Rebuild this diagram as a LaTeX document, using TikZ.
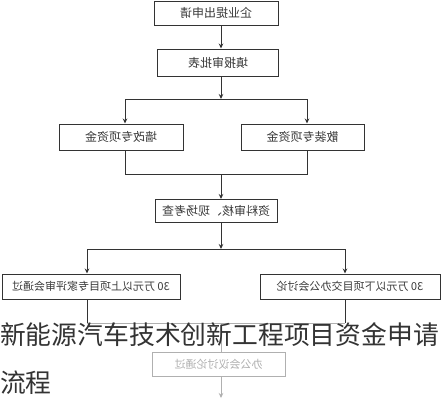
\documentclass[tikz,border=0pt]{standalone}
\usepackage{fontspec}
\usepackage{graphicx}
\newfontfamily\cjk{Noto Sans CJK SC}
\usetikzlibrary{arrows.meta}
\definecolor{lineC}{HTML}{333333}
\definecolor{txtC}{HTML}{3A3A3A}
\definecolor{fadeC}{HTML}{B0B0B0}
\definecolor{titleC}{HTML}{333333}
\begin{document}
\begin{tikzpicture}[x=1pt,y=-1pt,
  flowbox/.style={draw=lineC,line width=1pt,inner sep=0pt,font=\cjk\fontsize{12}{14}\selectfont,text=txtC},
  widebox/.style={flowbox,font=\cjk\fontsize{11}{13}\selectfont},
  fadebox/.style={draw=fadeC,line width=0.9pt,inner sep=0pt,font=\cjk\fontsize{11}{13}\selectfont,text=fadeC},
  arr/.style={draw=lineC,line width=0.9pt,-{Stealth[length=5pt,width=4.5pt]}},
  ln/.style={draw=lineC,line width=0.9pt},
  fadearr/.style={draw=fadeC,line width=0.9pt,-{Stealth[length=5pt,width=4.5pt]}},
  fadeln/.style={draw=fadeC,line width=0.9pt},
  titletxt/.style={font=\cjk\fontsize{25.8}{30}\selectfont,text=titleC,inner sep=0pt}]
\fill[white] (0,0) rectangle (441,400);
\useasboundingbox (0,0) rectangle (441,400);
% column coordinates
\coordinate (cM) at (221,0);
\coordinate (cL1) at (125,0);
\coordinate (cR1) at (307,0);
\coordinate (cL2) at (87,0);
\coordinate (cR2) at (345,0);
% boxes
\node[flowbox,minimum width=124pt,minimum height=24pt] (b1) at (216,13) {\reflectbox{企业提出申请}};
\node[flowbox,minimum width=121pt,minimum height=27pt] (b2) at (218,62.5) {\reflectbox{填报审批表}};
\node[flowbox,minimum width=124pt,minimum height=26pt] (b3l) at (121,137) {\reflectbox{墙改专项资金}};
\node[flowbox,minimum width=123pt,minimum height=26pt] (b3r) at (302.5,137) {\reflectbox{散装专项资金}};
\node[flowbox,minimum width=122pt,minimum height=23pt] (b4) at (216,211) {\reflectbox{资料审核、现场考查}};
\node[widebox,minimum width=178pt,minimum height=25pt] (b5l) at (91,286.5) {\reflectbox{30 万元以上项目专家评审会通过}};
\node[widebox,minimum width=180pt,minimum height=25pt] (b5r) at (350,286.5) {\reflectbox{30 万元以下项目交办公会讨论}};
\node[fadebox,minimum width=133pt,minimum height=24pt] (b6) at (218.5,364) {\reflectbox{办公会议讨论通过}};
% junctions
\coordinate (j1) at (221,99);
\coordinate (j1l) at (125,99);
\coordinate (j1r) at (307,99);
\coordinate (j2) at (221,174);
\coordinate (j2l) at (125,174);
\coordinate (j2r) at (307,174);
\coordinate (j3) at (221,249);
\coordinate (j3l) at (87,249);
\coordinate (j3r) at (345,249);
\coordinate (j4) at (221,323);
\coordinate (j4l) at (87,323);
\coordinate (j4r) at (345,323);
\coordinate (endp) at (221,398);
% connectors
\draw[arr] (b1.south -| cM) -- (b2.north -| cM);
\draw[arr] (b2.south -| cM) -- (j1);
\draw[ln] (j1l) -- (j1r);
\draw[arr] (j1l) -- (b3l.north -| cL1);
\draw[arr] (j1r) -- (b3r.north -| cR1);
\draw[ln] (b3l.south -| cL1) -- (j2l) -- (j2r) -- (b3r.south -| cR1);
\draw[arr] (j2) -- (b4.north -| cM);
\draw[arr] (b4.south -| cM) -- (j3);
\draw[ln] (j3l) -- (j3r);
\draw[arr] (j3l) -- (b5l.north -| cL2);
\draw[arr] (j3r) -- (b5r.north -| cR2);
\draw[ln] (b5l.south -| cL2) -- (j4l);
\draw[ln] (b5r.south -| cR2) -- (j4r);
\draw[fadeln] (j4l) -- (j4r);
\draw[fadeln] (j4) -- (b6.north -| cM);
\draw[fadearr] (b6.south -| cM) -- (endp);
% overlay title
\node[titletxt,anchor=base west] (t1) at (0,344) {新能源汽车技术创新工程项目资金申请};
\node[titletxt,anchor=base west] (t2) at (0,392) {流程};
\end{tikzpicture}
\end{document}
